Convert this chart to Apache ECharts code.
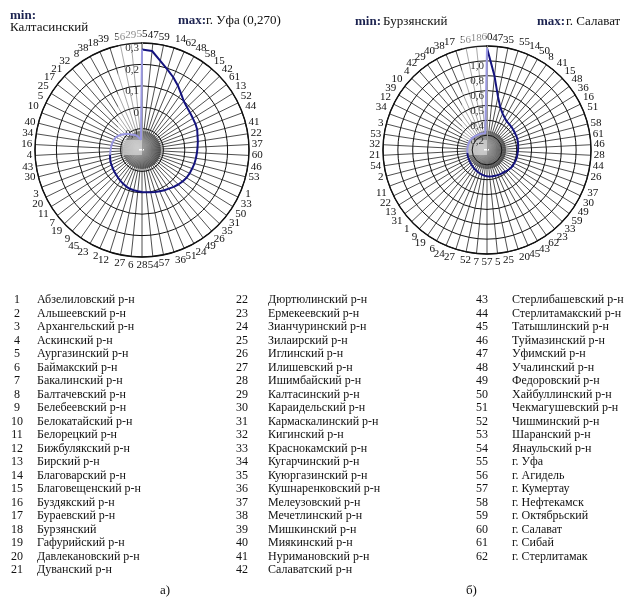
<!DOCTYPE html>
<html>
<head>
<meta charset="utf-8">
<script src="https://cdn.jsdelivr.net/npm/echarts@6/dist/echarts.min.js"></script>
<style>
html, body { margin: 0; padding: 0; background: #fff; }
#chart { width: 625px; height: 603px; }
</style>
</head>
<body>
<div id="chart"></div>
<script>
// а) порядок районов по кругу (по часовой стрелке от верха) и значения
const orderA = [55, 47, 59, 14, 62, 48, 58, 15, 42, 61, 13, 52, 44, 41, 22, 37, 60, 46, 53, 1,
  33, 50, 31, 35, 26, 49, 24, 51, 36, 57, 54, 28, 6, 27, 12, 2, 23, 45, 9, 19,
  7, 11, 20, 3, 30, 43, 4, 16, 34, 40, 10, 5, 25, 17, 21, 32, 8, 38, 18, 39, 56, 29];
const valuesA = [0.270, 0.265, 0.225, 0.195, 0.170, 0.145, 0.120, 0.100, 0.090, 0.084,
  0.080, 0.078, 0.075, 0.068, 0.064, 0.060, 0.057, 0.055, 0.053, 0.050,
  0.048, 0.045, 0.040, 0.034, 0.027, 0.020, 0.015, 0.010, 0.006, 0.002,
  -0.002, -0.004, -0.006, -0.008, -0.010, -0.014, -0.019, -0.024, -0.029, -0.033,
  -0.036, -0.039, -0.041, -0.043, -0.046, -0.049, -0.052, -0.054, -0.056, -0.058,
  -0.061, -0.064, -0.072, -0.082, -0.092, -0.102, -0.112, -0.118, -0.125, -0.133,
  -0.142, -0.152];
const radiusLabelsA = ['', '-0,1', '0', '0,1', '0,2', '0,3'];

// б)
const orderB = [60, 47, 35, 55, 14, 50, 8, 41, 15, 48, 36, 16, 51, 58, 61, 46, 28, 44, 26, 37,
  30, 49, 59, 33, 23, 62, 43, 45, 20, 25, 5, 57, 7, 52, 27, 24, 6, 19, 9, 1,
  31, 13, 22, 11, 2, 54, 21, 32, 53, 3, 34, 12, 39, 10, 4, 42, 29, 40, 38, 17, 56, 18];
const valuesB = [1.08, 0.80, 0.60, 0.50, 0.45, 0.42, 0.40, 0.395, 0.39, 0.385,
  0.38, 0.378, 0.376, 0.372, 0.368, 0.365, 0.362, 0.36, 0.36, 0.358,
  0.356, 0.355, 0.35, 0.343, 0.336, 0.33, 0.328, 0.326, 0.323, 0.321,
  0.319, 0.315, 0.31, 0.303, 0.296, 0.29, 0.284, 0.278, 0.272, 0.266,
  0.262, 0.258, 0.256, 0.254, 0.252, 0.25, 0.25, 0.249, 0.248, 0.248,
  0.247, 0.247, 0.245, 0.242, 0.238, 0.234, 0.230, 0.228, 0.226, 0.224,
  0.222, 0.220];
const radiusLabelsB = ['', '0,2', '0,4', '0,5', '0,6', '0,8', '1,0', ''];

const districts = ['Абзелиловский р-н', 'Альшеевский р-н', 'Архангельский р-н', 'Аскинский р-н',
  'Аургазинский р-н', 'Баймакский р-н', 'Бакалинский р-н', 'Балтачевский р-н', 'Белебеевский р-н',
  'Белокатайский р-н', 'Белорецкий р-н', 'Бижбулякский р-н', 'Бирский р-н', 'Благоварский р-н',
  'Благовещенский р-н', 'Буздякский р-н', 'Бураевский р-н', 'Бурзянский', 'Гафурийский р-н',
  'Давлекановский р-н', 'Дуванский р-н', 'Дюртюлинский р-н', 'Ермекеевский р-н',
  'Зианчуринский р-н', 'Зилаирский р-н', 'Иглинский р-н', 'Илишевский р-н', 'Ишимбайский р-н',
  'Калтасинский р-н', 'Караидельский р-н', 'Кармаскалинский р-н', 'Кигинский р-н',
  'Краснокамский р-н', 'Кугарчинский р-н', 'Куюргазинский р-н', 'Кушнаренковский р-н',
  'Мелеузовский р-н', 'Мечетлинский р-н', 'Мишкинский р-н', 'Миякинский р-н',
  'Нуримановский р-н', 'Салаватский р-н', 'Стерлибашевский р-н', 'Стерлитамакский р-н',
  'Татышлинский р-н', 'Туймазинский р-н', 'Уфимский р-н', 'Учалинский р-н', 'Федоровский р-н',
  'Хайбуллинский р-н', 'Чекмагушевский р-н', 'Чишминский р-н', 'Шаранский р-н',
  'Янаульский р-н', 'г. Уфа', 'г. Агидель', 'г. Кумертау', 'г. Нефтекамск', 'г. Октябрьский',
  'г. Салават', 'г. Сибай', 'г. Стерлитамак'];

const splitAt = 45; // с этой точки линия светлая
const serif = '"Liberation Serif", "DejaVu Serif", serif';
const navy = '#14137e';
const lilac = '#9a98e2';

const chart = echarts.init(document.getElementById('chart'));

function angleAxis(idx, order) {
  return {
    polarIndex: idx, type: 'value', min: 0, max: order.length, interval: 1,
    startAngle: 90, clockwise: true,
    axisLine: { lineStyle: { color: '#111', width: 1.4 } },
    axisTick: { show: false },
    splitLine: { lineStyle: { color: '#222', width: 0.8 } },
    axisLabel: {
      margin: 3, fontFamily: serif, fontSize: 11, color: '#111',
      formatter: v => (order[v] !== undefined ? String(order[v]) : '')
    }
  };
}
function radiusAxis(idx, min, max, interval, labels) {
  return {
    polarIndex: idx, type: 'value', min: min, max: max, interval: interval,
    axisLine: { lineStyle: { color: '#999', width: 1 } },
    axisTick: { show: false },
    splitLine: { lineStyle: { color: '#111', width: 1 } },
    axisLabel: {
      fontFamily: serif, fontSize: 11, color: '#333', margin: 3,
      align: 'right', verticalAlign: 'top',
      formatter: (v, i) => labels[i] || ''
    },
    z: 3
  };
}
function lines(idx, values) {
  const pts = values.map((v, i) => [v, i]);
  const tail = pts.slice(splitAt);
  tail.push([values[0], values.length]);
  return [
    { type: 'line', coordinateSystem: 'polar', polarIndex: idx, data: pts.slice(0, splitAt + 1),
      symbol: 'none', lineStyle: { color: navy, width: 2 }, z: 5, animation: false },
    { type: 'line', coordinateSystem: 'polar', polarIndex: idx, data: tail,
      symbol: 'none', lineStyle: { color: lilac, width: 2 }, z: 5, animation: false }
  ];
}

const hub = (cx, cy) => [
  { type: 'circle', shape: { cx: cx, cy: cy, r: 19 }, z: 2,
    style: { opacity: 0.85, fill: { type: 'radial', x: 0.4, y: 0.45, r: 0.6,
      colorStops: [{ offset: 0, color: '#d0d0d0' }, { offset: 1, color: '#404040' }] } } },
  { type: 'rect', shape: { x: cx - 19, y: cy - 10, width: 19, height: 15 }, z: 2,
    style: { fill: 'rgba(215,215,215,0.7)' } },
  { type: 'rect', shape: { x: cx - 3, y: cy - 1, width: 5, height: 1.5 }, z: 2,
    style: { fill: '#fff' } }
];

const graphics = [];
graphics.push(...hub(142, 150), ...hub(487, 150));
// светлая подложка под подписями радиальной оси
graphics.push({ type: 'rect', shape: { x: 118, y: 28, width: 23, height: 112 }, z: 1,
  style: { fill: 'rgba(255,255,255,0.5)' } });
graphics.push({ type: 'rect', shape: { x: 462, y: 28, width: 24, height: 112 }, z: 1,
  style: { fill: 'rgba(255,255,255,0.5)' } });

const titleBold = { fontFamily: serif, fontSize: 13, fontWeight: 'bold', fill: '#1c2350' };
const titleNorm = { fontFamily: serif, fontSize: 13, fill: '#111' };
graphics.push(
  { type: 'text', x: 10, y: 9, style: Object.assign({ text: 'min:' }, titleBold) },
  { type: 'text', x: 10, y: 21, style: Object.assign({ text: 'Калтасинский' }, titleNorm) },
  { type: 'text', x: 178, y: 14, style: Object.assign({ text: 'max:' }, titleBold) },
  { type: 'text', x: 206, y: 14, style: Object.assign({ text: 'г. Уфа (0,270)' }, titleNorm) },
  { type: 'text', x: 355, y: 15, style: Object.assign({ text: 'min:' }, titleBold) },
  { type: 'text', x: 383, y: 15, style: Object.assign({ text: 'Бурзянский' }, titleNorm) },
  { type: 'text', x: 537, y: 15, style: Object.assign({ text: 'max:' }, titleBold) },
  { type: 'text', x: 566, y: 15, style: Object.assign({ text: 'г. Салават' }, titleNorm) },
  { type: 'text', x: 160, y: 584, style: Object.assign({ text: 'а)' }, titleNorm) },
  { type: 'text', x: 466, y: 584, style: Object.assign({ text: 'б)' }, titleNorm) }
);

// список районов в три колонки
const cols = [{ start: 0, n: 21, nx: 17, tx: 37 }, { start: 21, n: 21, nx: 242, tx: 268 },
  { start: 42, n: 20, nx: 482, tx: 512 }];
cols.forEach(c => {
  for (let k = 0; k < c.n; k++) {
    const i = c.start + k;
    const y = 300 + k * 13.5;
    graphics.push({ type: 'text', x: c.nx, y: y,
      style: { text: String(i + 1), fontFamily: serif, fontSize: 12, fill: '#111',
        align: 'center', verticalAlign: 'middle' } });
    graphics.push({ type: 'text', x: c.tx, y: y,
      style: { text: districts[i], fontFamily: serif, fontSize: 12, fill: '#111',
        verticalAlign: 'middle' } });
  }
});

const option = {
  backgroundColor: '#fff',
  animation: false,
  polar: [
    { center: [142, 150], radius: 107 },
    { center: [487, 150], radius: 104 }
  ],
  angleAxis: [angleAxis(0, orderA), angleAxis(1, orderB)],
  radiusAxis: [radiusAxis(0, -0.2, 0.3, 0.1, radiusLabelsA),
    radiusAxis(1, 0.05, 1.1, 0.15, radiusLabelsB)],
  series: [...lines(0, valuesA), ...lines(1, valuesB)],
  graphic: graphics
};
chart.setOption(option);
</script>
</body>
</html>
